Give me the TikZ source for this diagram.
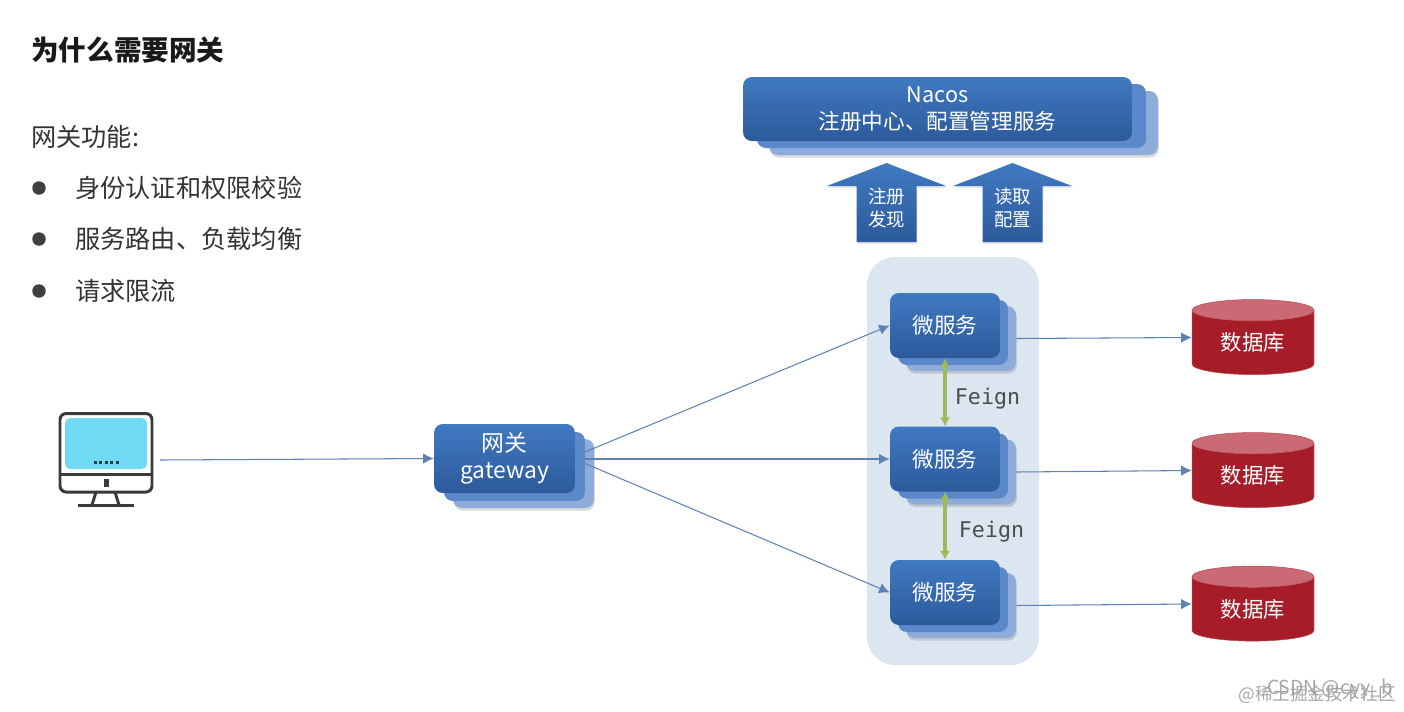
\documentclass[tikz,border=0pt]{standalone}
\usepackage{fontspec}
\setmainfont{Noto Sans CJK SC}
\setmonofont{DejaVu Sans Mono}
\usetikzlibrary{arrows.meta,shapes.geometric,shadows}
\definecolor{boxtop}{HTML}{4079C0}
\definecolor{boxbottom}{HTML}{2C5A9C}
\definecolor{boxmid}{HTML}{5B88C8}
\definecolor{boxback}{HTML}{8DACDA}
\definecolor{panelblue}{HTML}{DCE6F1}
\definecolor{linkblue}{HTML}{5F82B4}
\definecolor{feigngreen}{HTML}{9BBB59}
\definecolor{dbred}{HTML}{A61C28}
\definecolor{dbtop}{HTML}{C96A74}
\definecolor{screenblue}{HTML}{70DAF4}
\definecolor{pcline}{HTML}{3A3A3A}
\tikzset{
    frontbox/.style={rounded corners=5pt, top color=boxtop, bottom color=boxbottom, text=white, align=center, inner sep=0pt, font=\fontsize{12.3}{15.5}\selectfont},
    midbox/.style={rounded corners=5pt, fill=boxmid, inner sep=0pt},
    backbox/.style={rounded corners=5pt, fill=boxback, inner sep=0pt, drop shadow={opacity=0.3, shadow xshift=0.5pt, shadow yshift=-1.5pt}},
    dbnode/.style={cylinder, shape border rotate=90, aspect=0.33, cylinder uses custom fill, cylinder body fill=dbred, cylinder end fill=dbtop, draw=dbred!80!white, line width=0.3pt, text=white, minimum width=2.44cm, minimum height=1.5cm, inner sep=0pt, font=\fontsize{12.2}{15}\selectfont},
    link/.style={-{Latex[length=6pt, width=6pt]}, linkblue, line width=0.6pt},
    feignlink/.style={{Latex[length=5pt, width=6pt]}-{Latex[length=5pt, width=6pt]}, feigngreen, line width=2.2pt},
    feignlabel/.style={text=black!70, font=\ttfamily\fontsize{12.3}{15}\selectfont, inner sep=0pt},
    bodytext/.style={anchor=west, inner sep=0pt, text=black!80, font=\fontsize{14.35}{18}\selectfont},
    dotnode/.style={circle, fill=black!75, minimum size=0.27cm, inner sep=0pt}
}
\begin{document}
\begin{tikzpicture}[x=0.02cm, y=-0.02cm]
    \useasboundingbox (0,0) rectangle (1404,711);

    % --- left column ---
    \node[bodytext, text=black!90, font=\bfseries\fontsize{15.7}{18}\selectfont] (title) at (31,50) {为什么需要网关};
    \node[bodytext] (funcs) at (31,137) {网关功能:};
    \foreach \ypos/\txt in {188/身份认证和权限校验, 239/服务路由、负载均衡, 291/请求限流} {
        \node[dotnode] at (39,\ypos) {};
        \node[bodytext] at (75,\ypos) {\txt};
    }

    % --- monitor ---
    \fill[screenblue, rounded corners=3pt] (65,418) rectangle (147,469);
    \draw[pcline, line width=1.7pt, rounded corners=3.5pt] (60,413.5) rectangle (152,492);
    \draw[pcline, line width=1.7pt] (60,474) -- (152,474);
    \fill[pcline] (104,479) rectangle (109,487);
    \draw[pcline, line width=1.7pt] (96,492) -- (92,505) (115,492) -- (119,505);
    \draw[pcline, line width=1.7pt] (78,505.5) -- (134,505.5);
    \foreach \xpos in {95,100.5,106,111.5,117} {
        \fill[black!70!screenblue] (\xpos-1.5,460.5) rectangle (\xpos+1.5,463.5);
    }
    \coordinate (pc) at (160,460);

    % --- panel behind the services ---
    \fill[panelblue, rounded corners=16pt] (867,257) rectangle (1039,665);

    % --- Nacos ---
    \node[backbox, minimum width=7.78cm, minimum height=1.28cm] (nacos3) at (963.5,123) {};
    \node[midbox, minimum width=7.78cm, minimum height=1.28cm] (nacos2) at (951.5,116) {};
    \node[frontbox, minimum width=7.78cm, minimum height=1.28cm] (nacos) at (937.5,109) {Nacos\\注册中心、配置管理服务};

    % --- block arrows ---
    \foreach \xc/\lbl in {886.5/注册\\发现, 1012.5/读取\\配置} {
        \shade[top color=boxtop, bottom color=boxbottom, drop shadow={opacity=0.2, shadow xshift=0.5pt, shadow yshift=-1pt}]
            (\xc,163) -- (\xc+59.5,186) -- (\xc+30,186) -- (\xc+30,242) -- (\xc-30,242) -- (\xc-30,186) -- (\xc-59.5,186) -- cycle;
        \node[text=white, align=center, inner sep=0pt, font=\fontsize{10.5}{12.6}\selectfont] at (\xc,208) {\lbl};
    }

    % --- gateway ---
    \node[backbox, minimum width=2.82cm, minimum height=1.38cm] (gw3) at (523.5,473.5) {};
    \node[midbox, minimum width=2.82cm, minimum height=1.38cm] (gw2) at (514.5,466.5) {};
    \node[frontbox, minimum width=2.82cm, minimum height=1.38cm, font=\fontsize{13}{15.5}\selectfont] (gw) at (504.5,458.5) {网关\\gateway};
    \coordinate (gwa) at (585,452);
    \coordinate (gwb) at (585,459);
    \coordinate (gwc) at (585,463.5);

    % --- services and databases ---
    \foreach \idx/\yc/\ydb in {1/325.5/342.5, 2/459/475.5, 3/592.5/609} {
        \node[backbox, minimum width=2.2cm, minimum height=1.3cm] (svcback\idx) at (961,\yc+13) {};
        \node[midbox, minimum width=2.2cm, minimum height=1.3cm] (svcmid\idx) at (953,\yc+7) {};
        \node[frontbox, minimum width=2.2cm, minimum height=1.3cm] (svc\idx) at (945,\yc) {微服务};
        \node[dbnode] (db\idx) at (1253,\ydb) {数据库};
        \draw[link] (svcback\idx.east) -- ([yshift=0.1cm]db\idx.west);
    }

    % --- connectors ---
    \draw[link] (pc) -- (gw.west);
    \draw[link] (gwa) -- (svc1.west);
    \draw[link] (gwb) -- (svc2.west);
    \draw[link] (gwc) -- (svc3.west);
    \draw[feignlink] (svc1.south) -- (svc2.north);
    \draw[feignlink] (svc2.south) -- (svc3.north);
    \node[feignlabel] (feign1) at (987.5,399) {Feign};
    \node[feignlabel] (feign2) at (991.5,532) {Feign};

    % --- watermark ---
    \node[text=black!35, inner sep=0pt, font=\fontsize{10}{11}\selectfont] (mark1) at (1317,695) {@稀土掘金技术社区};
    \node[text=black!35, inner sep=0pt, font=\fontsize{11}{11}\selectfont] (mark2) at (1330,689) {CSDN @cyy\_h};
\end{tikzpicture}
\end{document}
